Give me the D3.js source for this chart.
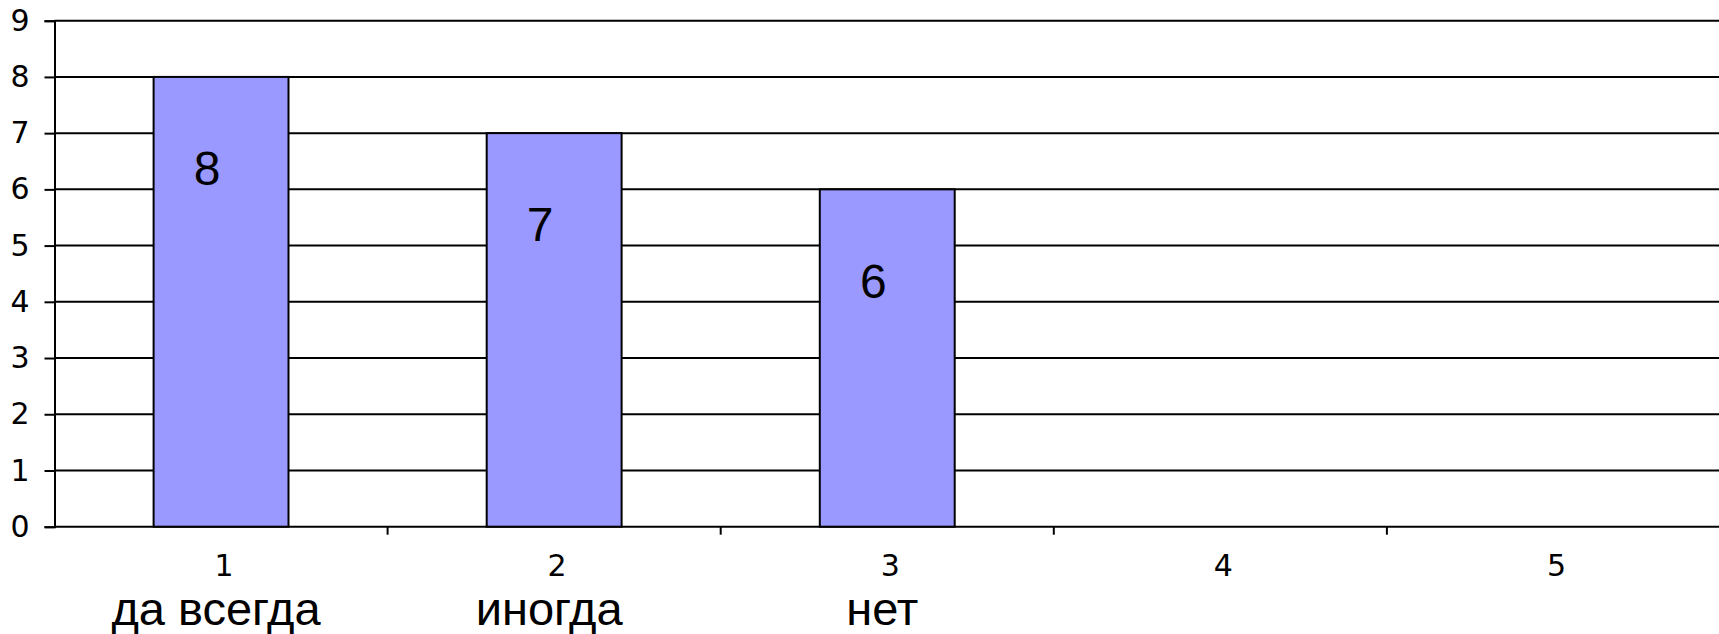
<!DOCTYPE html>
<html>
<head>
<meta charset="utf-8">
<script src="https://cdn.jsdelivr.net/npm/d3@7"></script>
<style>
  html, body { margin: 0; padding: 0; background: #fff; overflow: hidden; }
</style>
</head>
<body>
<div id="chart"></div>
<script>
  // chart data
  const positions = [1, 2, 3, 4, 5];
  const answers = ["да всегда", "иногда", "нет"];
  const counts = [8, 7, 6];
  const yTicks = [0, 1, 2, 3, 4, 5, 6, 7, 8, 9];

  (() => {
    const width = 1719,
          height = 634;

    const svg = d3.select("#chart")
      .append("svg")
      .attr("width", width)
      .attr("height", height);

    const left = 54.5, right = width + 1,
          top = 20.7, bottom = 526.7;

    const x = d3.scaleBand()
      .domain(positions)
      .range([left, right])
      .padding(0);

    const y = d3.scaleLinear()
      .domain([0, 9])
      .range([bottom, top]);

    // horizontal gridlines
    svg.append("g")
      .selectAll("line")
      .data(yTicks)
      .join("line")
      .attr("x1", left)
      .attr("x2", width)
      .attr("y1", d => y(d))
      .attr("y2", d => y(d))
      .attr("stroke", "#000")
      .style("stroke-width", "2px");

    // y axis
    const yAxis = svg.append("g")
      .attr("transform", `translate(${left},0)`)
      .call(d3.axisLeft(y).tickValues(yTicks).tickSize(10).tickPadding(15));
    yAxis.select(".domain").attr("stroke", "#000").style("stroke-width", "2px");
    yAxis.selectAll(".tick line").style("stroke-width", "2px");
    yAxis.selectAll("text")
      .style("font-family", "'DejaVu Sans', sans-serif")
      .style("font-size", "30px")
      .attr("fill", "#000");

    // x axis: ticks sit on band boundaries, labels in band centers
    const xAxis = svg.append("g")
      .attr("transform", `translate(0,${bottom})`);
    xAxis.selectAll("line")
      .data(positions.slice(1))
      .join("line")
      .attr("x1", d => x(d))
      .attr("x2", d => x(d))
      .attr("y1", 0)
      .attr("y2", 8)
      .attr("stroke", "#000")
      .style("stroke-width", "2px");
    xAxis.selectAll("text")
      .data(positions)
      .join("text")
      .attr("x", d => x(d) + x.bandwidth() / 2 + 3)
      .attr("y", 49)
      .attr("text-anchor", "middle")
      .style("font-family", "'DejaVu Sans', sans-serif")
      .style("font-size", "30px")
      .attr("fill", "#000")
      .text(d => d);

    const barW = x.bandwidth() * 0.405;

    svg.append("g")
      .selectAll("rect")
      .data(counts)
      .join("rect")
      .attr("x", (d, i) => x(positions[i]) + (x.bandwidth() - barW) / 2)
      .attr("y", d => y(d))
      .attr("width", barW)
      .attr("height", d => y(0) - y(d))
      .attr("fill", "#9999ff")
      .attr("stroke", "#000")
      .style("stroke-width", "2px");

    // value labels inside bars
    svg.append("g")
      .selectAll("text")
      .data(counts)
      .join("text")
      .attr("x", (d, i) => x(positions[i]) + x.bandwidth() / 2 - 14)
      .attr("y", d => y(d) + 91)
      .attr("dy", "0.36em")
      .attr("text-anchor", "middle")
      .style("font-family", "'Liberation Sans', Arial, sans-serif")
      .style("font-size", "48px")
      .attr("fill", "#000")
      .text(d => d);

    // answer captions under the axis
    svg.append("g")
      .selectAll("text")
      .data(answers)
      .join("text")
      .attr("x", (d, i) => x(positions[i]) + x.bandwidth() / 2 - 5)
      .attr("y", 625)
      .attr("text-anchor", "middle")
      .style("font-family", "'Liberation Sans', Arial, sans-serif")
      .style("font-size", "47px")
      .attr("fill", "#000")
      .text(d => d);
  })();
</script>
</body>
</html>
